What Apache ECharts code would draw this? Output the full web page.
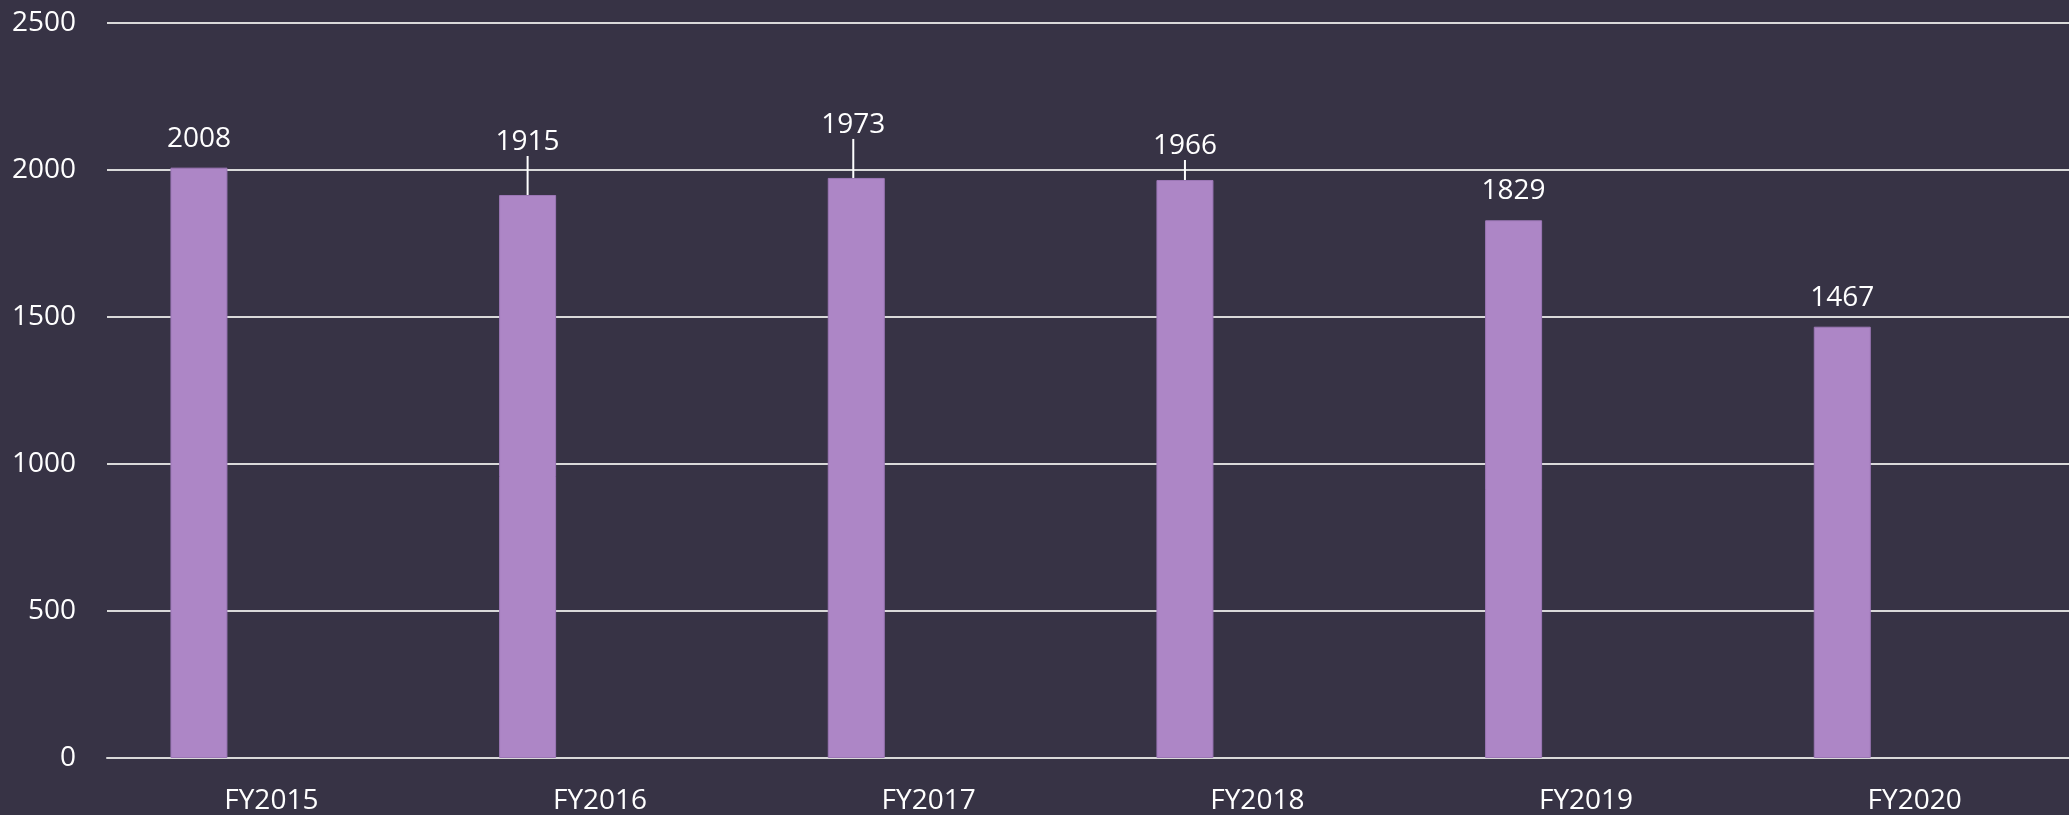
<!DOCTYPE html>
<html>
<head>
<meta charset="utf-8">
<script src="https://cdn.jsdelivr.net/npm/echarts@6/dist/echarts.min.js"></script>
<style>
html,body{margin:0;padding:0;background:#373345;}
#chart_1{width:2069px;height:815px;}
</style>
</head>
<body>
<div id="chart_1"></div>
<script>
var categories = ['FY2015','FY2016','FY2017','FY2018','FY2019','FY2020'];
var values = [2008, 1915, 1973, 1966, 1829, 1467];
var emptyValues = [null, null, null, null, null, null];
var yTicks = [0, 500, 1000, 1500, 2000, 2500];

// labels that were dragged up in the original (dx, dy)
var labelMoves = {1: [0, -24], 2: [-3, -24], 3: [0, -5]};

// only the moved labels get a leader line
var barData = values.map(function(v, i){
    if (labelMoves[i]) {
        return {value: v, labelLine: {show: true, lineStyle: {color: '#ffffff', width: 2}}};
    }
    return {value: v, labelLine: {show: false}};
});

var option1 = {
    backgroundColor: '#373345',
    textStyle: {fontFamily: 'Open Sans'},
    grid: {left: 107, top: 23, width: 1972, height: 735, outerBoundsMode: 'none', containLabel: false},
    xAxis: [{
        type: 'category',
        data: categories,
        axisTick: {show: false},
        axisLine: {lineStyle: {color: '#d9d9d9', width: 2}},
        axisLabel: {color: '#ffffff', fontSize: 28, margin: 29}
    }],
    yAxis: [{
        type: 'value',
        min: yTicks[0],
        max: yTicks[yTicks.length - 1],
        interval: 500,
        axisLine: {show: false},
        axisTick: {show: false},
        axisLabel: {
            color: '#ffffff', fontSize: 28, margin: 31,
            formatter: function(v){ return String(v); }
        },
        splitLine: {lineStyle: {color: '#d9d9d9', width: 2}}
    }],
    series: [
        {
            name: 'count',
            type: 'bar',
            barWidth: 57,
            barGap: '154%',
            data: barData,
            itemStyle: {color: '#ad86c6', borderColor: '#9c77b6', borderWidth: 1},
            label: {
                show: true,
                position: 'top',
                distance: 15,
                color: '#ffffff',
                fontSize: 28
            },
            labelLayout: function(params){
                var m = labelMoves[params.dataIndex];
                if (!m) return {};
                return {dx: m[0], dy: m[1]};
            }
        },
        {
            name: 'blank',
            type: 'bar',
            barWidth: 57,
            data: emptyValues
        }
    ]
};
var myChart1 = echarts.init(document.getElementById('chart_1'));
myChart1.setOption(option1);
</script>
</body>
</html>
